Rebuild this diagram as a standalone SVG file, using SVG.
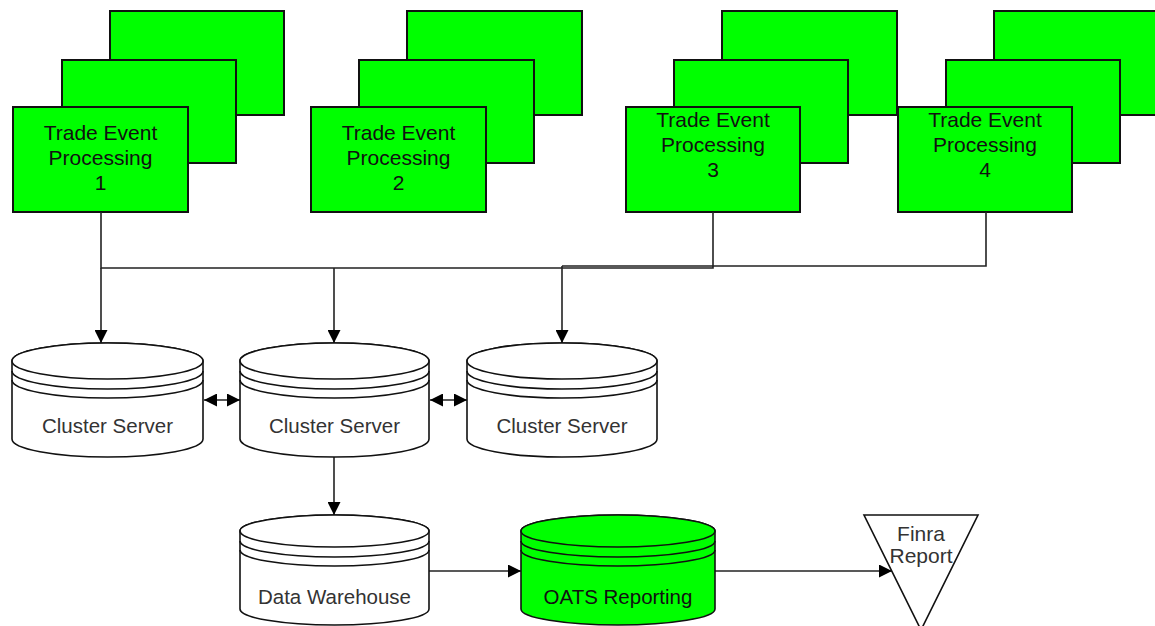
<svg xmlns="http://www.w3.org/2000/svg" width="1155" height="626" viewBox="0 0 1155 626">
<defs>
<marker id="arr" markerUnits="userSpaceOnUse" markerWidth="13" markerHeight="13" refX="13" refY="6.5" orient="auto-start-reverse" viewBox="0 0 13 13">
<path d="M0,0 L13,6.5 L0,13 Z" fill="#000"/>
</marker>
</defs>
<style>
.box{fill:#00FF00;stroke:#111;stroke-width:2}
.btxt{font-family:"Liberation Sans",Arial,sans-serif;font-size:21px;fill:#111;text-anchor:middle}
.cyl{fill:#fff;stroke:#111;stroke-width:1.6}
.cylg{fill:#00FF00;stroke:#111;stroke-width:1.6}
.ctxt{font-family:"Liberation Sans",Arial,sans-serif;font-size:20.5px;fill:#333;text-anchor:middle}
.gtxt{font-family:"Liberation Sans",Arial,sans-serif;font-size:20.5px;fill:#111;text-anchor:middle}
.line{fill:none;stroke:#222;stroke-width:1.6}
.ln{fill:none;stroke:#111;stroke-width:1.6}
</style>
<rect width="1155" height="626" fill="#fff"/>

<g id="tep1">
<rect class="box" x="110" y="11" width="174" height="104"/>
<rect class="box" x="62" y="60" width="174" height="103"/>
<rect class="box" x="13" y="107" width="175" height="105"/>
<text class="btxt" x="100.5" y="140">Trade Event</text>
<text class="btxt" x="100.5" y="165">Processing</text>
<text class="btxt" x="100.5" y="190">1</text>
</g>
<g id="tep2">
<rect class="box" x="407" y="11" width="175" height="104"/>
<rect class="box" x="359" y="60" width="175" height="103"/>
<rect class="box" x="311" y="107" width="175" height="105"/>
<text class="btxt" x="398.5" y="140">Trade Event</text>
<text class="btxt" x="398.5" y="165">Processing</text>
<text class="btxt" x="398.5" y="190">2</text>
</g>
<g id="tep3">
<rect class="box" x="722" y="11" width="175" height="104"/>
<rect class="box" x="674" y="60" width="174" height="103"/>
<rect class="box" x="626" y="107" width="174" height="105"/>
<text class="btxt" x="713" y="127">Trade Event</text>
<text class="btxt" x="713" y="152">Processing</text>
<text class="btxt" x="713" y="177">3</text>
</g>
<g id="tep4">
<rect class="box" x="994" y="11" width="180" height="104"/>
<rect class="box" x="946" y="60" width="174" height="103"/>
<rect class="box" x="898" y="107" width="174" height="105"/>
<text class="btxt" x="985" y="127">Trade Event</text>
<text class="btxt" x="985" y="152">Processing</text>
<text class="btxt" x="985" y="177">4</text>
</g>

<g id="connectors">
<path class="line" d="M101,212 V268 H713 V212"/>
<path class="line" d="M986,212 V266 H562"/>
<path class="line" d="M101,268 V343" marker-end="url(#arr)"/>
<path class="line" d="M334,268 V343" marker-end="url(#arr)"/>
<path class="line" d="M562,266 V343" marker-end="url(#arr)"/>
<path class="line" d="M204,400 H240" marker-start="url(#arr)" marker-end="url(#arr)"/>
<path class="line" d="M430,400 H467" marker-start="url(#arr)" marker-end="url(#arr)"/>
<path class="line" d="M334,457 V515" marker-end="url(#arr)"/>
<path class="line" d="M429,571 H521" marker-end="url(#arr)"/>
<path class="line" d="M715,571 H892" marker-end="url(#arr)"/>
</g>

<g id="cluster1">
<path class="cyl" d="M12,361 V439 A95.5,18 0 0 0 203,439 V361 A95.5,18 0 0 0 12,361 Z"/>
<ellipse class="cyl" cx="107.5" cy="361" rx="95.5" ry="18"/>
<path class="ln" d="M12,371 A95.5,18 0 0 0 203,371 M12,380 A95.5,18 0 0 0 203,380"/>
<text class="ctxt" x="107.5" y="433">Cluster Server</text>
</g>
<g id="cluster2">
<path class="cyl" d="M240,361 V439 A94.5,18 0 0 0 429,439 V361 A94.5,18 0 0 0 240,361 Z"/>
<ellipse class="cyl" cx="334.5" cy="361" rx="94.5" ry="18"/>
<path class="ln" d="M240,371 A94.5,18 0 0 0 429,371 M240,380 A94.5,18 0 0 0 429,380"/>
<text class="ctxt" x="334.5" y="433">Cluster Server</text>
</g>
<g id="cluster3">
<path class="cyl" d="M467,361 V439 A95,18 0 0 0 657,439 V361 A95,18 0 0 0 467,361 Z"/>
<ellipse class="cyl" cx="562" cy="361" rx="95" ry="18"/>
<path class="ln" d="M467,371 A95,18 0 0 0 657,371 M467,380 A95,18 0 0 0 657,380"/>
<text class="ctxt" x="562" y="433">Cluster Server</text>
</g>

<g id="datawarehouse">
<path class="cyl" d="M240,531 V609 A94.5,16 0 0 0 429,609 V531 A94.5,16 0 0 0 240,531 Z"/>
<ellipse class="cyl" cx="334.5" cy="531" rx="94.5" ry="16"/>
<path class="ln" d="M240,541 A94.5,16 0 0 0 429,541 M240,550 A94.5,16 0 0 0 429,550"/>
<text class="ctxt" x="334.5" y="604">Data Warehouse</text>
</g>
<g id="oats">
<path class="cylg" d="M521,531 V609 A97,16 0 0 0 715,609 V531 A97,16 0 0 0 521,531 Z"/>
<ellipse class="cylg" cx="618" cy="531" rx="97" ry="16"/>
<path class="ln" d="M521,541 A97,16 0 0 0 715,541 M521,550 A97,16 0 0 0 715,550"/>
<text class="gtxt" x="618" y="604">OATS Reporting</text>
</g>
<g id="finra">
<path class="cyl" d="M864,515 H978 L921,630 Z"/>
<text class="ctxt" x="921" y="541" style="font-size:21px">Finra</text>
<text class="ctxt" x="921" y="563" style="font-size:21px">Report</text>
</g>
</svg>
